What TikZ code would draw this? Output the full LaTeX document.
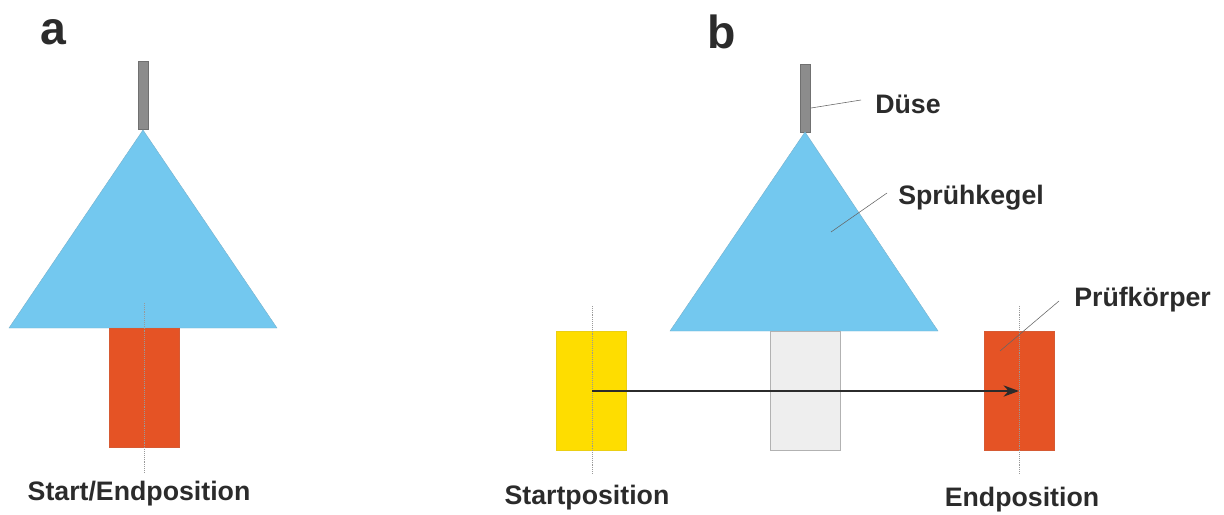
\documentclass[tikz,border=0pt]{standalone}
\usepackage{fontspec}
\setmainfont{Liberation Sans}
\usetikzlibrary{arrows.meta}
\definecolor{cone}{HTML}{73C8EF}
\definecolor{probe}{HTML}{E55325}
\definecolor{yel}{HTML}{FEDD00}
\definecolor{txt}{HTML}{2B2B2B}
\definecolor{metal}{HTML}{8C8C8C}
\tikzset{
  lbl/.style={text=txt,font=\fontsize{19}{22}\selectfont\bfseries,inner sep=0pt},
  big/.style={text=txt,font=\fontsize{33}{36}\selectfont\bfseries,inner sep=0pt},
  nozzle/.style={draw=metal!80!black,fill=metal,minimum width=0.25cm,minimum height=1.7cm,inner sep=0pt,line width=0.3pt},
  specimen/.style={minimum width=1.75cm,minimum height=2.975cm,inner sep=0pt},
  axis/.style={densely dotted,gray!80,line width=0.35pt},
  leader/.style={gray!80!black,line width=0.4pt}
}
\begin{document}
\begin{tikzpicture}[x=0.025cm,y=-0.025cm]
\useasboundingbox (0,0) rectangle (1224,514);
% a
\node[big] (la) at (53,32) {a};
\node[nozzle] (na) at (143,95.5) {};
\draw[fill=cone,draw=cone!70!gray,line width=0.3pt] (143,130) -- (277,328) -- (9,328) -- cycle;
\node[specimen,fill=probe,draw=probe!85!gray] (ra) at (144,387.5) {};
\draw[axis] (144,303) -- (144,472);
\node[lbl] (sa) at (139,494) {Start/Endposition};
% b
\node[big] (lb) at (722,32) {b};
\node[nozzle] (nb) at (805,98) {};
\draw[fill=cone,draw=cone!70!gray,line width=0.3pt] (805,132) -- (938,331) -- (670,331) -- cycle;
\node[specimen,fill=gray!13,draw=gray!60] (rm) at (805,390.5) {};
\node[specimen,fill=yel,draw=yel!85!gray] (ys) at (591,390.5) {};
\node[specimen,fill=probe,draw=probe!85!gray] (re) at (1019,390.5) {};
\draw[axis] (592,306) -- (592,474);
\draw[axis] (1019,306) -- (1019,474);
\coordinate (s) at (592,391);
\coordinate (e) at (1019,391);
\draw[-{Stealth[length=11pt,width=8pt]},line width=1.3pt,txt] (s) -- (e);
\node[lbl] (ls) at (587,498) {Startposition};
\node[lbl] (le) at (1022,500) {Endposition};
% Beschriftung
\node[lbl,anchor=west] (dl) at (875,104) {Düse};
\node[lbl,anchor=west] (kl) at (898,198) {Sprühkegel};
\node[lbl,anchor=west] (pl) at (1074,300) {Prüfkörper};
\coordinate (d0) at (811,108);
\coordinate (d1) at (861,100);
\coordinate (k0) at (831,232);
\coordinate (k1) at (887,193);
\coordinate (p0) at (1000,351);
\coordinate (p1) at (1059,301);
\draw[leader] (d0) -- (d1);
\draw[leader] (k0) -- (k1);
\draw[leader] (p0) -- (p1);
\end{tikzpicture}
\end{document}
